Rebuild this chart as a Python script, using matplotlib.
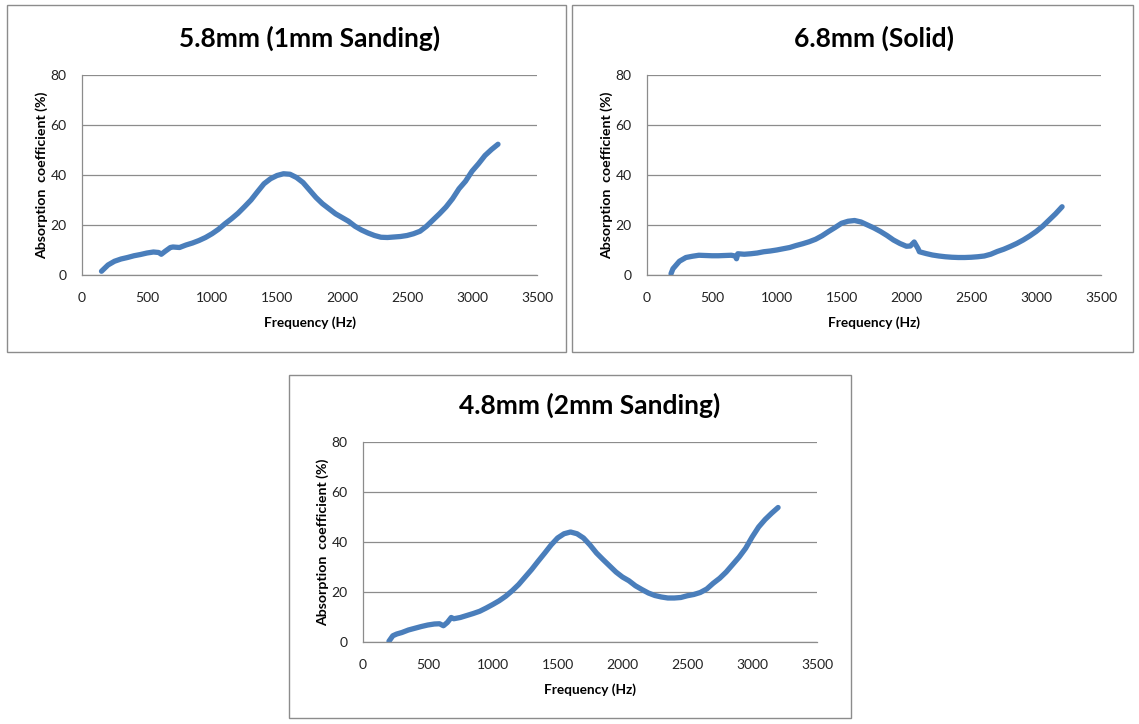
import matplotlib
matplotlib.use("Agg")
import matplotlib.pyplot as plt
from matplotlib.patches import Rectangle

# values (Hz, %)
freq_58 = [150, 200, 250, 300, 350, 400, 450, 500, 550, 590, 610, 640, 680, 700, 750, 800, 850, 900, 950,
           1000, 1050, 1100, 1150, 1200, 1250, 1300, 1350, 1400, 1450, 1500, 1550, 1600, 1650, 1700, 1750,
           1800, 1850, 1900, 1950, 2000, 2050, 2100, 2150, 2200, 2250, 2300, 2350, 2400, 2450, 2500, 2550,
           2600, 2650, 2700, 2750, 2800, 2850, 2900, 2950, 3000, 3050, 3100, 3150, 3200]
abs_58 = [1.5, 4.0, 5.5, 6.4, 7.0, 7.7, 8.2, 8.8, 9.2, 9.0, 8.3, 9.5, 11.0, 11.2, 11.0, 12.0, 12.8, 13.8, 15.0,
          16.5, 18.3, 20.5, 22.5, 24.7, 27.3, 30.0, 33.3, 36.5, 38.5, 39.8, 40.5, 40.3, 39.0, 37.0, 34.0,
          31.0, 28.5, 26.5, 24.5, 23.0, 21.5, 19.5, 18.0, 16.8, 15.8, 15.1, 15.0, 15.2, 15.4, 15.8, 16.5,
          17.5, 19.5, 22.0, 24.5, 27.2, 30.5, 34.5, 37.5, 41.5, 44.5, 47.8, 50.2, 52.3]

freq_68 = [185, 200, 250, 300, 350, 400, 450, 500, 550, 600, 650, 680, 690, 700, 750, 800, 850, 900, 950,
           1000, 1050, 1100, 1150, 1200, 1250, 1300, 1350, 1400, 1450, 1500, 1550, 1600, 1650, 1700, 1750,
           1800, 1850, 1900, 1950, 2000, 2030, 2060, 2090, 2100, 2150, 2200, 2250, 2300, 2350, 2400, 2450,
           2500, 2550, 2600, 2650, 2700, 2750, 2800, 2850, 2900, 2950, 3000, 3050, 3100, 3150, 3200]
abs_68 = [0.5, 2.5, 5.5, 7.0, 7.5, 7.9, 7.8, 7.7, 7.7, 7.8, 7.9, 7.6, 6.5, 8.5, 8.3, 8.5, 8.8, 9.3, 9.6,
          10.0, 10.5, 11.0, 11.8, 12.5, 13.3, 14.3, 15.7, 17.4, 19.0, 20.7, 21.5, 21.8, 21.2, 20.0, 18.8,
          17.4, 15.8, 14.0, 12.6, 11.5, 11.6, 13.2, 10.5, 9.3, 8.6, 8.0, 7.6, 7.3, 7.1, 7.0, 7.0,
          7.1, 7.3, 7.6, 8.3, 9.4, 10.3, 11.4, 12.6, 14.0, 15.6, 17.4, 19.5, 22.0, 24.5, 27.3]

freq_48 = [200, 230, 260, 300, 350, 400, 450, 500, 550, 590, 620, 650, 680, 700, 750, 800, 850, 900, 950,
           1000, 1050, 1100, 1150, 1200, 1250, 1300, 1350, 1400, 1450, 1500, 1550, 1600, 1650, 1700, 1750,
           1800, 1850, 1900, 1950, 2000, 2050, 2100, 2150, 2200, 2250, 2300, 2350, 2400, 2450, 2500, 2550,
           2600, 2650, 2700, 2750, 2800, 2850, 2900, 2950, 3000, 3050, 3100, 3150, 3200]
abs_48 = [0.3, 2.5, 3.2, 3.8, 4.8, 5.5, 6.2, 6.8, 7.2, 7.3, 6.5, 7.8, 9.8, 9.3, 9.8, 10.6, 11.4, 12.3, 13.6,
          15.0, 16.5, 18.3, 20.5, 23.0, 26.0, 29.0, 32.3, 35.5, 38.8, 41.6, 43.3, 44.0, 43.3, 41.6, 38.8,
          35.6, 33.0, 30.5, 28.0, 26.0, 24.5, 22.5, 21.0, 19.6, 18.6, 18.0, 17.6, 17.6, 17.8, 18.5, 19.0,
          19.8, 21.2, 23.5, 25.5, 28.0, 31.0, 34.0, 37.5, 42.0, 46.0, 49.0, 51.5, 53.8]

titles = ["5.8mm (1mm Sanding)", "6.8mm (Solid)", "4.8mm (2mm Sanding)"]
x_ticks = [0, 500, 1000, 1500, 2000, 2500, 3000, 3500]
y_ticks = [0, 20, 40, 60, 80]

W, H = 1139, 724
plt.rcParams['font.family'] = ['Lato', 'DejaVu Sans']

fig = plt.figure(figsize=(W / 100, H / 100), dpi=100)
fig.patch.set_facecolor("white")

# (frame left, top, right, bottom), (axes left, y0 pixel, width), in pixels
panels = [
    ((7, 5, 566, 352), (82, 275, 455)),
    ((572, 5, 1133, 352), (647, 275, 454)),
    ((289, 375, 851, 718), (363, 642, 454)),
]
series = [(freq_58, abs_58), (freq_68, abs_68), (freq_48, abs_48)]

for (frame, ax_pos), (fx, fy), title in zip(panels, series, titles):
    l, t, r, b = frame
    fig.patches.append(Rectangle((l / W, 1 - b / H), (r - l) / W, (b - t) / H,
                                 transform=fig.transFigure, facecolor="none",
                                 edgecolor="#8c8c8c", linewidth=1, zorder=-1))
    axl, y0, aw = ax_pos
    ax = fig.add_axes([axl / W, 1 - y0 / H, aw / W, 200 / H])
    ax.patch.set_alpha(0)
    ax.plot(fx, fy, color="#4a7ebb", linewidth=3.8, solid_capstyle="round")
    ax.set_xlim(0, 3500)
    ax.set_ylim(0, 80)
    ax.set_xticks(x_ticks)
    ax.set_yticks(y_ticks)
    ax.grid(axis="y", color="#8c8c8c", linewidth=0.9)
    ax.set_axisbelow(True)
    for s in ["top", "right"]:
        ax.spines[s].set_visible(False)
    for s in ["left", "bottom"]:
        ax.spines[s].set_color("#8c8c8c")
        ax.spines[s].set_linewidth(0.9)
    ax.tick_params(length=0, labelsize=10, colors="#222222")
    ax.tick_params(axis="x", pad=12)
    ax.tick_params(axis="y", pad=11)
    ax.set_xlabel("Frequency (Hz)", fontsize=9.8, fontweight="bold", labelpad=9)
    ax.set_ylabel("Absorption  coefficient (%)", fontsize=10.2, fontweight="bold", labelpad=2)
    ax.set_title(title, fontsize=19, fontweight="bold", pad=20)

fig.savefig("out.png", dpi=100)
